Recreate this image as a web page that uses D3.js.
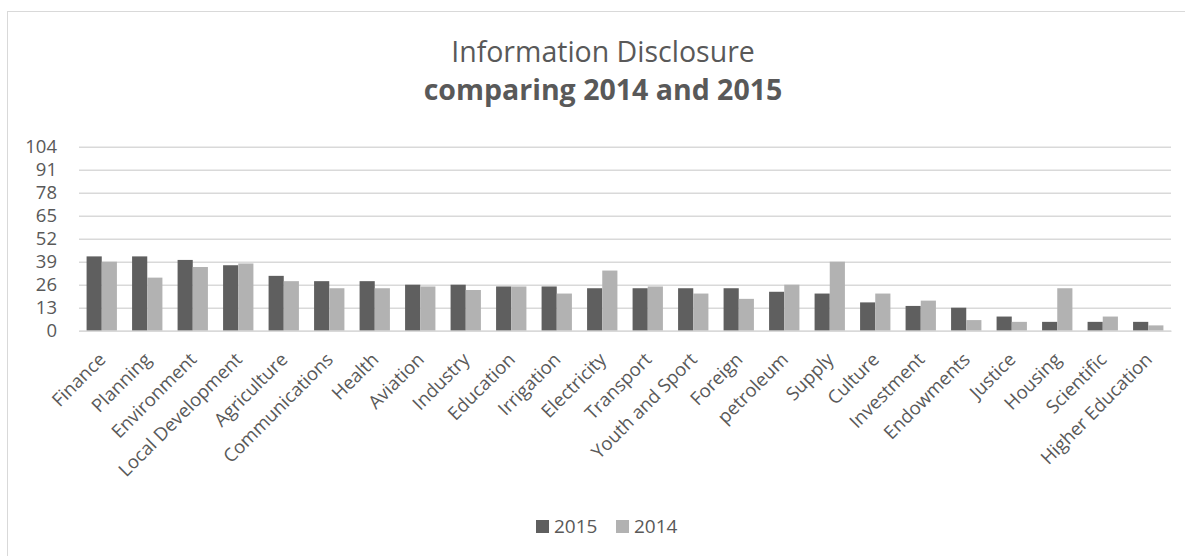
<!doctype html>
<html>
  <head>
    <style>
      body { margin: 0; background: white; }
      text { font-family: "Open Sans", sans-serif; fill: #595959; }
    </style>
    <script src="https://cdnjs.cloudflare.com/ajax/libs/d3/7.8.5/d3.min.js"></script>
  </head>
  <body>
    <div id="chart"></div>
    <script>
      // categories and values
      var categories = ["Finance", "Planning", "Environment", "Local Development", "Agriculture",
        "Communications", "Health", "Aviation", "Industry", "Education", "Irrigation", "Electricity",
        "Transport", "Youth and Sport", "Foreign", "petroleum", "Supply", "Culture", "Investment",
        "Endowments", "Justice", "Housing", "Scientific", "Higher Education"];
      var values2015 = [42, 42, 40, 37, 31, 28, 28, 26, 26, 25, 25, 24, 24, 24, 24, 22, 21, 16, 14, 13, 8, 5, 5, 5];
      var values2014 = [39, 30, 36, 38, 28, 24, 24, 25, 23, 25, 21, 34, 25, 21, 18, 26, 39, 21, 17, 6, 5, 24, 8, 3];
      var seriesNames = ["2015", "2014"];
      var seriesColors = ["#5f5f5f", "#b2b2b2"];
      var yTicks = [0, 13, 26, 39, 52, 65, 78, 91, 104];

      var width = 1185, height = 556;
      var plot = {left: 79, right: 1171, top: 146.7, bottom: 330.7};

      var svg = d3.select("#chart").append("svg")
                  .attr("width", width)
                  .attr("height", height);

      // chart frame (runs off the right and bottom edges)
      svg.append("rect")
         .attr("x", 7.5).attr("y", 11.5)
         .attr("width", 1192).attr("height", 560)
         .attr("fill", "white")
         .attr("stroke", "#d9d9d9")
         .attr("stroke-width", 1);

      // title, two lines
      svg.append("text")
         .attr("x", 603).attr("y", 62)
         .attr("text-anchor", "middle")
         .style("font-size", "28.5px")
         .text("Information Disclosure");
      svg.append("text")
         .attr("x", 603).attr("y", 100)
         .attr("text-anchor", "middle")
         .style("font-size", "28.5px")
         .style("font-weight", "bold")
         .text("comparing 2014 and 2015");

      var y = d3.scaleLinear().domain([0, 104]).range([plot.bottom, plot.top]);
      var x = d3.scaleBand().domain(categories).range([plot.left, plot.right]).paddingInner(0);
      var x1 = d3.scaleBand().domain(seriesNames).range([0, x.bandwidth()]).paddingInner(0).paddingOuter(0.5);

      // gridlines + y labels
      var yAxis = d3.axisLeft(y).tickValues(yTicks).tickSize(-(plot.right - plot.left)).tickPadding(22);
      var gy = svg.append("g")
                  .attr("transform", "translate(" + plot.left + ",0)")
                  .call(yAxis);
      gy.select(".domain").remove();
      gy.selectAll(".tick line").attr("stroke", "#d9d9d9").attr("stroke-width", 1.5);
      gy.selectAll(".tick text")
        .attr("fill", "#595959")
        .style("font-size", "18.5px")
        .style("font-family", "'Open Sans', sans-serif");

      // bars
      var rows = categories.map(function(c, i) {
        return {cat: c, vals: [values2015[i], values2014[i]]};
      });
      var groups = svg.selectAll(".group")
                      .data(rows)
                      .enter().append("g")
                      .attr("class", "group")
                      .attr("transform", function(d) { return "translate(" + x(d.cat) + ",0)"; });
      groups.selectAll("rect")
            .data(function(d) { return d.vals.map(function(v, j) { return {s: seriesNames[j], v: v, j: j}; }); })
            .enter().append("rect")
            .attr("x", function(d) { return x1(d.s); })
            .attr("y", function(d) { return y(d.v); })
            .attr("width", x1.bandwidth())
            .attr("height", function(d) { return y(0) - y(d.v); })
            .attr("fill", function(d) { return seriesColors[d.j]; });

      // x axis line and rotated labels
      var xAxis = d3.axisBottom(x).tickSize(0).tickPadding(0);
      var gx = svg.append("g")
                  .attr("transform", "translate(0," + plot.bottom + ")")
                  .call(xAxis);
      gx.select(".domain").attr("stroke", "#d9d9d9").attr("stroke-width", 1.5);
      gx.selectAll(".tick text")
        .attr("fill", "#595959")
        .style("font-size", "18.5px")
        .style("font-family", "'Open Sans', sans-serif")
        .attr("text-anchor", "end")
        .attr("dy", 0)
        .attr("y", 0)
        .attr("transform", "translate(5,30) rotate(-45)");

      // legend
      var legend = svg.append("g").attr("class", "legend");
      var legendX = [536, 616];
      seriesNames.forEach(function(s, i) {
        legend.append("rect")
              .attr("x", legendX[i]).attr("y", 520)
              .attr("width", 13).attr("height", 13)
              .attr("fill", seriesColors[i]);
        legend.append("text")
              .attr("x", legendX[i] + 18).attr("y", 533)
              .style("font-size", "19px")
              .text(s);
      });
    </script>
  </body>
</html>
